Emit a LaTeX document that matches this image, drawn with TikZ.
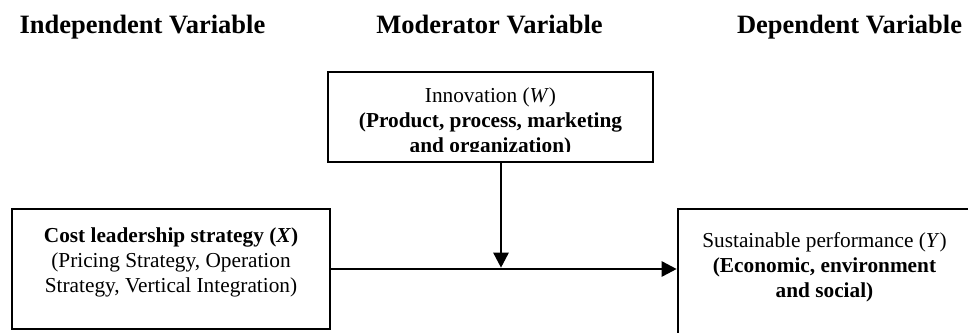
\documentclass[tikz,border=0pt]{standalone}
\usepackage{fontspec}
\setmainfont{Liberation Serif}
\usetikzlibrary{arrows.meta}
\begin{document}
\begin{tikzpicture}[x=1pt,y=-1pt,
  box/.style={draw, line width=2.6pt, inner sep=0pt},
  head/.style={font=\fontsize{26.5}{30}\selectfont\bfseries, anchor=base, inner sep=0pt},
  body/.style={font=\fontsize{21.3}{25}\selectfont, align=center, inner sep=0pt},
  link/.style={line width=2.6pt, -{Triangle[length=15pt,width=15pt]}}]
\useasboundingbox (0,0) rectangle (968,332);

% column headings
\node[head] (hX) at (142.5,33) {Independent Variable};
\node[head] (hW) at (489.5,33) {Moderator Variable};
\node[head] (hY) at (849.5,33) {Dependent Variable};

% boxes
\node[box, minimum width=325pt, minimum height=90pt] (W) at (490.5,117) {};
\node[box, minimum width=318pt, minimum height=120pt] (X) at (171,269) {};
\node[box, minimum width=293pt, minimum height=125pt] (Y) at (824.5,271.5) {};

% box texts
\node[body] (Xt) at (171,262) {\textbf{Cost leadership strategy (}\textbf{\textit{X}}\textbf{)}\\
  (Pricing Strategy, Operation\\Strategy, Vertical Integration)};
\node[body] (Yt) at (824.5,266.8) {Sustainable performance (\textit{Y})\\
  \textbf{(Economic, environment}\\\textbf{and social)}};
\begin{scope}
  \clip (328,72) rectangle (653,151.5);
  \node[body] (Wt) at (490.5,122.4) {Innovation (\textit{W})\\
    \textbf{(Product, process, marketing}\\\textbf{and organization)}};
\end{scope}

% connectors
\coordinate (m) at (501,269);
\draw[link] (X.east) -- (X.east -| Y.west);
\draw[link, shorten >=1.3pt] (W.south -| m) -- (m);
\end{tikzpicture}
\end{document}
